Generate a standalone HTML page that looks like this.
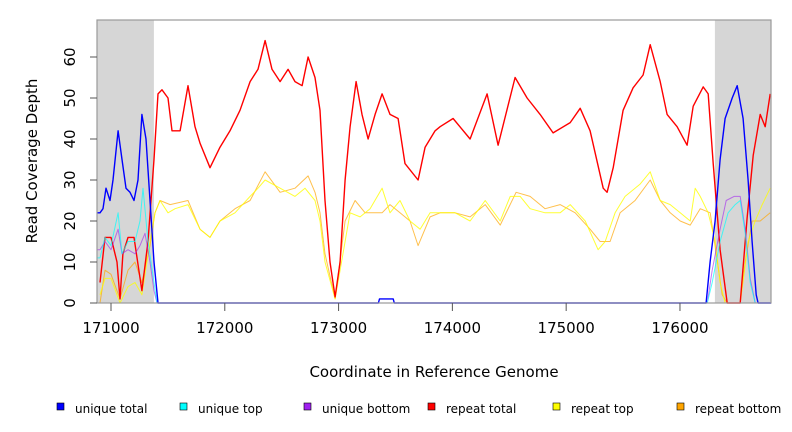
<!DOCTYPE html>
<html><head><meta charset="utf-8"><style>
body{margin:0;background:#fff;}
svg{display:block;font-family:"DejaVu Sans","Liberation Sans",sans-serif;}
</style></head><body>
<svg id="chart" width="792" height="432">
<g id="bg"></g><g id="series"></g><g id="axes"></g><g id="legend"></g>
</svg>
<script>
const xTicks=[171000,172000,173000,174000,175000,176000];
const yTicks=[0,10,20,30,40,50,60];
const shadedRegions=[[170877,171377],[176307,176800]];
const repeatTotalX=[170903,170947,171000,171053,171079,171105,171149,171202,171272,171325,171378,171413,171448,171501,171536,171607,171677,171738,171782,171870,171958,172046,172134,172222,172292,172354,172415,172486,172556,172617,172679,172732,172793,172837,172881,172925,172969,173013,173057,173101,173154,173206,173259,173321,173382,173452,173523,173584,173699,173760,173848,173892,174006,174156,174305,174402,174551,174657,174771,174885,175035,175123,175210,175325,175360,175413,175500,175588,175676,175738,175826,175887,175975,176063,176116,176204,176248,176292,176353,176415,176529,176591,176644,176705,176749,176793];
const repeatTotalY=[5,16,16,10,1,12,16,16,3,15,35,51,52,50,42,42,53,43,39,33,38,42,47,54,57,64,57,54,57,54,53,60,55,47,25,10,1.5,10,30,43,54,46,40,46,51,46,45,34,30,38,42,43,45,40,51,38.5,55,50,46,41.5,44,47.5,42,28,27,33,47,52.5,55.6,63,54,46,43,38.5,48,52.7,51,34,13,0,0,21,36,46,43,51];
const repeatTopX=[170903,170947,171000,171079,171149,171211,171272,171343,171387,171431,171501,171563,171677,171782,171870,171958,172090,172222,172292,172354,172486,172617,172705,172793,172837,172881,172969,173057,173101,173189,173277,173382,173452,173540,173628,173716,173804,173892,174024,174156,174288,174420,174508,174596,174683,174815,174947,175035,175167,175281,175343,175430,175518,175650,175738,175826,175914,176002,176090,176134,176178,176248,176310,176353,176397,176529,176600,176661,176723,176793];
const repeatTopY=[2,6,6,0,4,5,2,15,22,25,22,23,24,18,16,20,22,26,28,30,28,26,28,25,20,10,1,15,22,21,23,28,22,25,20,18,22,22,22,20,25,20,26,26,23,22,22,24,20,13,15,22,26,29,32,25,24,22,20,28,26,22,15,5,0,0,15,20,24,28];
const repeatBottomX=[170903,170947,171000,171079,171149,171211,171272,171343,171387,171431,171519,171677,171782,171870,171958,172090,172222,172354,172486,172617,172732,172793,172837,172881,172969,173057,173145,173233,173321,173382,173452,173540,173628,173699,173804,173892,174024,174156,174288,174420,174560,174683,174815,174947,175079,175210,175298,175386,175474,175606,175738,175826,175914,176002,176090,176178,176266,176318,176371,176415,176529,176573,176635,176705,176793];
const repeatBottomY=[0,8,7,1,8,10,5,14,22,25,24,25,18,16,20,23,25,32,27,28,31,27,22,12,1,20,25,22,22,22,24,22,20,14,21,22,22,21,24,19,27,26,23,24,22,18,15,15,22,25,30,25,22,20,19,23,22,12,2,0,0,10,20,20,22];
const uniqueTotalX=[170877,170903,170930,170956,170991,171018,171062,171097,171132,171167,171202,171237,171272,171308,171343,171378,171413,173350,173360,173480,173490,176230,176265,176309,176353,176397,176459,176503,176555,176599,176634,176670,176687,176800];
const uniqueTotalY=[22,22,23,28,25,30,42,35,28,27,25,30,46,40,25,10,0,0,1,1,0,0,10,20,35,45,50,53,45,30,15,2,0,0];
const uniqueTopX=[170877,170903,170947,171000,171062,171097,171149,171211,171255,171281,171325,171378,171404,176240,176283,176353,176423,176485,176529,176573,176617,176661,176800];
const uniqueTopY=[11,11,16,14,22,12,15,15,20,28,15,5,0,0,5,15,22,24,25,17,5,0,0];
const uniqueBottomX=[170877,170903,170947,171000,171062,171097,171149,171211,171255,171299,171343,171378,171404,176240,176283,176353,176406,176476,176529,176573,176617,176661,176800];
const uniqueBottomY=[13,13,15,13,18,12,13,12,14,17,10,3,0,0,8,18,25,26,26,18,6,0,0];

const NS="http://www.w3.org/2000/svg";
const L=97,R=771,T=20,B=303;
const xMin=170877,xMax=176800;
function xs(v){return L+(v-xMin)/(xMax-xMin)*(R-L);}
function ys(v){return B-v*4.1;}
function mk(tag,attrs,parent){const e=document.createElementNS(NS,tag);for(const k in attrs)e.setAttribute(k,attrs[k]);parent.appendChild(e);return e;}
const bg=document.getElementById('bg'),sg=document.getElementById('series'),ax=document.getElementById('axes'),lg=document.getElementById('legend');
mk('rect',{x:L,y:T,width:R-L,height:B-T,fill:'#fff'},bg);
shadedRegions.forEach((r,i)=>{
  const e=mk('rect',{x:xs(r[0]),y:T,width:xs(r[1])-xs(r[0]),height:B-T,fill:'#d6d6d6'},bg);
  
  
});
function line(xa,ya){let d='';for(let i=0;i<xa.length;i++){const x=xs(xa[i]).toFixed(1),y=ys(ya[i]).toFixed(1);d+=(i===0?'M':' L')+x+','+y;}return d;}
const series=[
 ['repeat-bottom-line',repeatBottomX,repeatBottomY,'#ffa500',1,0.7],
 ['repeat-top-line',repeatTopX,repeatTopY,'#ffff00',1,0.8],
 ['repeat-total-line',repeatTotalX,repeatTotalY,'#ff0000',1.4,1],
 ['unique-bottom-line',uniqueBottomX,uniqueBottomY,'#a020f0',1,0.6],
 ['unique-top-line',uniqueTopX,uniqueTopY,'#00ffff',1,0.7],
 ['unique-total-line',uniqueTotalX,uniqueTotalY,'#0000ff',1.4,1]];
series.forEach(s=>{
  const p=mk('path',{d:line(s[1],s[2]),fill:'none',stroke:s[3],'stroke-width':s[4],'stroke-opacity':s[5],'stroke-linejoin':'round'},sg);
  
  
});
const box=mk('rect',{x:L,y:T,width:R-L,height:B-T,fill:'none',stroke:'#999','stroke-width':1.2},ax);


xTicks.forEach(t=>{
  const x=xs(t);
  mk('line',{x1:x,x2:x,y1:B,y2:B+8,stroke:'#555'},ax);
  const tx=mk('text',{x:x,y:B+30,'text-anchor':'middle','font-size':15,fill:'#000'},ax);
  tx.textContent=t;
  
  
});
yTicks.forEach(t=>{
  const y=ys(t);
  mk('line',{x1:L-7,x2:L,y1:y,y2:y,stroke:'#555'},ax);
  const tx=mk('text',{x:75,y:y,'text-anchor':'middle','font-size':15,fill:'#000',transform:'rotate(-90 75 '+y+')'},ax);
  tx.textContent=t;
  
  
});
const xt=mk('text',{x:434,y:377,'text-anchor':'middle','font-size':15},ax);
xt.textContent='Coordinate in Reference Genome';


const yt=mk('text',{x:37,y:161,'text-anchor':'middle','font-size':15,transform:'rotate(-90 37 161)'},ax);
yt.textContent='Read Coverage Depth';


const legendItems=[['unique total','#0000ff',57],['unique top','#00ffff',180],['unique bottom','#a020f0',304],['repeat total','#ff0000',428],['repeat top','#ffff00',553],['repeat bottom','#ffa500',677]];
legendItems.forEach(it=>{
  const g=mk('g',{},lg);
  
  
  mk('rect',{x:it[2],y:403,width:7,height:7,fill:it[1],stroke:'#000','stroke-width':0.6},g);
  const t=mk('text',{x:it[2]+18,y:413,'font-size':12},g);
  t.textContent=it[0];
});
</script>
</body></html>
